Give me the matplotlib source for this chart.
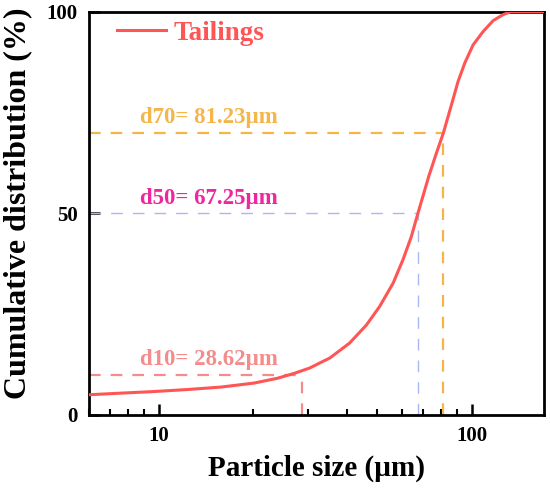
import matplotlib
matplotlib.use('Agg')
import matplotlib.pyplot as plt
from matplotlib.ticker import FixedLocator, LogLocator, NullFormatter

plt.rcParams['font.family'] = ['Liberation Serif', 'DejaVu Serif']
plt.rcParams['font.weight'] = 'bold'

# curva de distribucion acumulada
size_um = [6.0, 7.6, 9.7, 12.4, 15.8, 20.2, 24.0, 27.1, 30.3, 35.2, 40.7,
           46.1, 50.8, 56.1, 60.3, 64.1, 67.3, 72.9, 77.0, 81.2, 86.1, 90.4,
           95.0, 101.0, 108.7, 117.0, 125.9, 133.0, 170.0]
cum_pct = [5.0, 5.4, 5.8, 6.3, 6.9, 7.9, 9.1, 10.3, 11.6, 14.1, 17.8,
           22.3, 26.9, 32.7, 38.5, 44.2, 50.0, 59.2, 64.8, 70.0, 76.9, 82.7,
           87.3, 91.8, 95.1, 97.8, 99.3, 100.0, 100.0]

# diametros caracteristicos
d_names = ['d10', 'd50', 'd70']
d_pct = [10, 50, 70]
d_um = [28.62, 67.25, 81.23]

line_colors = ['#F58C8C', '#A9B8F2', '#F5B548']
text_colors = ['#F58C8C', '#F0269E', '#F5B548']
line_widths = [1.6, 1.0, 1.6]

fig = plt.figure(figsize=(5.5, 4.91), dpi=100)
ax = fig.add_axes([0.162, 0.155, 0.827, 0.821])

ax.plot(size_um, cum_pct, color='#FF5555', lw=2.2, label='Tailings', zorder=3)

x_left = 6
for name, p, d, lc, tc, lw in zip(d_names, d_pct, d_um, line_colors,
                                   text_colors, line_widths):
    dash = (8.4 / lw, 7.2 / lw)
    ax.plot([x_left, d], [p, p], color=lc, lw=lw, dashes=dash)
    ax.plot([d, d], [0, p], color=lc, lw=lw, dashes=dash)
    ax.text(8.75, p + 2.3, f'{name}= {d:.2f}µm', color=tc, fontsize=16.5,
            fontweight='bold', va='baseline', ha='left')

ax.set_xscale('log')
ax.set_xlim(6, 170)
ax.set_ylim(0, 100)

ax.xaxis.set_major_locator(FixedLocator([10, 100]))
ax.set_xticklabels(['10', '100'])
ax.xaxis.set_minor_locator(LogLocator(base=10, subs=range(2, 10)))
ax.xaxis.set_minor_formatter(NullFormatter())
ax.set_yticks([0, 50, 100])

ax.tick_params(axis='both', which='major', direction='in', length=8,
               width=1.8, labelsize=15, pad=8)
ax.tick_params(axis='x', which='minor', direction='in', length=4, width=1.5)
ax.tick_params(axis='y', which='minor', left=False)

for s in ax.spines.values():
    s.set_linewidth(2.0)

ax.set_xlabel('Particle size (µm)', fontsize=21, fontweight='bold', labelpad=6)
ax.set_ylabel('Cumulative distribution (%)', fontsize=23, fontweight='bold')
ax.yaxis.set_label_coords(-0.125, 0.526)

leg = ax.legend(loc='upper left', frameon=False, fontsize=19.5,
                handlelength=1.8, borderaxespad=0.3, handletextpad=0.3,
                bbox_to_anchor=(0.02, 1.025))
for t in leg.get_texts():
    t.set_color('#FF5555')
    t.set_fontweight('bold')

fig.savefig('out.png', dpi=100)
